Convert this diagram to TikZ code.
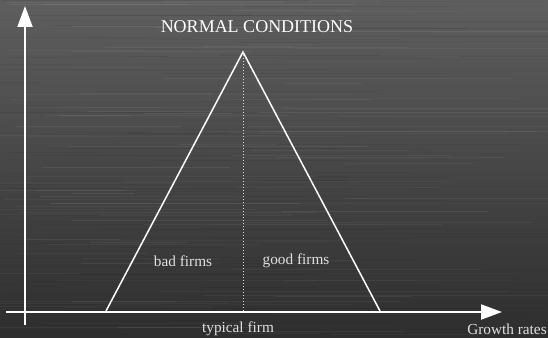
\documentclass[tikz,border=0pt]{standalone}
\usepackage{fontspec}
\setmainfont{Liberation Serif}
\usetikzlibrary{arrows.meta}
\begin{document}
\begin{tikzpicture}[x=1pt,y=-1pt,
  axis/.style={draw=white,line width=2pt,-{Triangle[length=21pt,width=15pt]}},
  side/.style={draw=white,line width=1.5pt,line join=miter},
  median/.style={draw=white!85!black,line width=1pt,dotted},
  label/.style={text=white!88!black,font=\fontsize{15.3}{17}\selectfont,inner sep=0pt},
  title/.style={text=white,font=\fontsize{18}{20}\selectfont,inner sep=0pt}]
  % brushed dark metal backdrop
  \shade[top color=black!63,bottom color=black!82] (0,0) rectangle (548,337);
  \useasboundingbox (0,0) rectangle (548,337);
  \pgfmathsetseed{7}
  \foreach \k in {1,...,220}{
    \pgfmathsetmacro{\yy}{rnd*337}
    \pgfmathsetmacro{\xa}{rnd*400-50}
    \pgfmathsetmacro{\ln}{60+rnd*300}
    \pgfmathsetmacro{\op}{0.02+rnd*0.05}
    \pgfmathparse{rnd>0.5?1:0}
    \ifnum\pgfmathresult=1
      \draw[white,opacity=\op,line width=0.5pt] (\xa,\yy) -- ++(\ln,0);
    \else
      \draw[black,opacity=\op,line width=0.8pt] (\xa,\yy) -- ++(\ln,0);
    \fi
  }
  % axes
  \coordinate (yfoot) at (25,325);
  \coordinate (ytip) at (25,6);
  \coordinate (xfoot) at (6,312);
  \coordinate (xtip) at (502,312);
  \draw[axis] (yfoot) -- (ytip);
  \draw[axis] (xfoot) -- (xtip);
  % distribution triangle
  \coordinate (apex) at (243,52);
  \coordinate (baseL) at (106,311);
  \coordinate (baseR) at (380,311);
  \coordinate (mid) at (243,311);
  \draw[side] (baseL) -- (apex) -- (baseR);
  \draw[median] (apex) -- (mid);
  % labels
  \node[title] (ttl) at (257,27) {NORMAL CONDITIONS};
  \node[label] (bad) at (183,261) {bad firms};
  \node[label] (good) at (296,261) {good firms};
  \node[label] (typ) at (238,329) {typical firm};
  \node[label] (gr) at (507,329) {Growth rates};
\end{tikzpicture}
\end{document}
